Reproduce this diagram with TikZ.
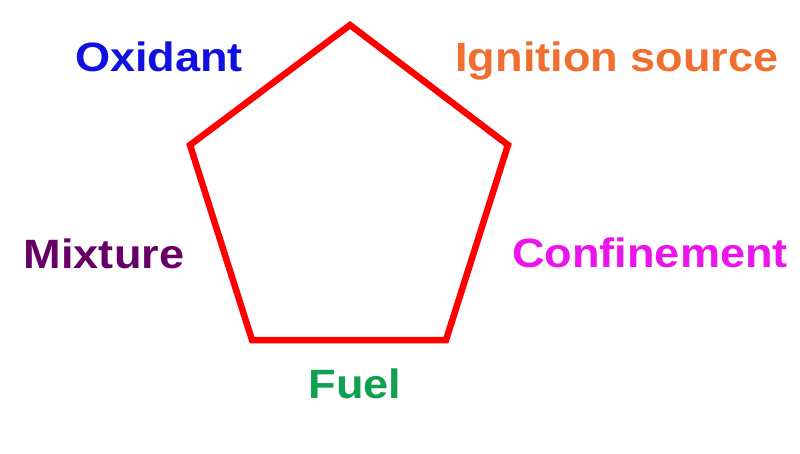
\documentclass[tikz,border=0pt]{standalone}
\usepackage{fontspec}
\setmainfont{Liberation Sans}[FakeStretch=1.1]
\definecolor{oxblue}{RGB}{16,16,224}
\definecolor{ignorange}{RGB}{240,110,48}
\definecolor{mixpurple}{RGB}{102,0,102}
\definecolor{confmag}{RGB}{236,20,236}
\definecolor{fuelgreen}{RGB}{16,160,80}
\definecolor{pentred}{RGB}{255,0,0}
\tikzset{
  lbl/.style={anchor=base, inner sep=0pt, font=\fontsize{41}{49}\selectfont\bfseries},
  pent/.style={draw=pentred, line width=6.5pt, line join=miter}
}
\begin{document}
\begin{tikzpicture}[x=1pt,y=-1pt]
\useasboundingbox (0,0) rectangle (800,454);
\coordinate (pT) at (350,25);
\coordinate (pR) at (508,145);
\coordinate (pBR) at (446,340);
\coordinate (pBL) at (252,340);
\coordinate (pL) at (190,145);
\draw[pent] (pT) -- (pR) -- (pBR) -- (pBL) -- (pL) -- cycle;
\node[lbl, text=oxblue] (ox) at (159,72) {Oxidant};
\node[lbl, text=ignorange] (ign) at (617,72) {Ignition source};
\node[lbl, text=mixpurple] (mix) at (104,269) {Mixture};
\node[lbl, text=confmag] (conf) at (650,268) {Confinement};
\node[lbl, text=fuelgreen] (fuel) at (355,398) {Fuel};
\end{tikzpicture}
\end{document}
